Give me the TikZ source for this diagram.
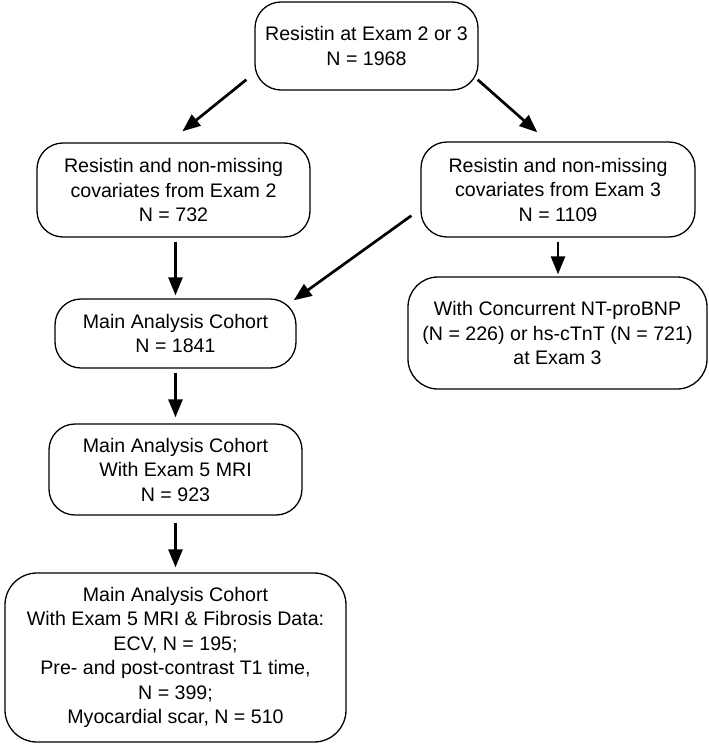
\documentclass[tikz,border=0pt]{standalone}
\usepackage{fontspec}
\setmainfont{Liberation Sans}
\usetikzlibrary{arrows.meta,calc}
\begin{document}
\begin{tikzpicture}[x=1pt,y=-1pt,
  box/.style={draw,line width=1.3pt,rounded corners=26pt,align=center,inner sep=0pt,
    font=\fontsize{19.6}{24.5}\selectfont},
  arr/.style={line width=2.7pt,-{Triangle[length=18pt,width=14pt]}}]
\useasboundingbox (0,0) rectangle (709,744);
\node[box,minimum width=223pt,minimum height=88pt] (b1) at (366.5,46) {Resistin at Exam 2 or 3\\N = 1968};
\node[box,minimum width=273pt,minimum height=94pt] (b2) at (173.5,190) {Resistin and non-missing\\covariates from Exam 2\\N = 732};
\node[box,minimum width=274pt,minimum height=95pt] (b3) at (558,189.5) {Resistin and non-missing\\covariates from Exam 3\\N = 1109};
\node[box,minimum width=241pt,minimum height=69pt] (b4) at (175.5,333.5) {Main Analysis Cohort\\N = 1841};
\node[box,minimum width=299pt,minimum height=112pt,rounded corners=30pt] (b5) at (557.5,333) {With Concurrent NT-proBNP\\(N = 226) or hs-cTnT (N = 721)\\at Exam 3};
\node[box,minimum width=253pt,minimum height=91pt] (b6) at (175.5,469.5) {Main Analysis Cohort\\With Exam 5 MRI\\N = 923};
\node[box,minimum width=341pt,minimum height=169pt,rounded corners=32pt] (b7) at (175.5,657.5) {Main Analysis Cohort\\With Exam 5 MRI \& Fibrosis Data:\\ECV, N = 195;\\Pre- and post-contrast T1 time,\\N = 399;\\Myocardial scar, N = 510};
\draw[arr] ([shift={(-8,-11)}]b1.south west) -- ([shift={(146,-11)}]b2.north west);
\draw[arr] ([shift={(-1,-11)}]b1.south east) -- ([shift={(117,-9)}]b3.north west);
\draw[arr] ([shift={(-9,-22)}]b3.south west) -- ([shift={(-3,2)}]b4.north east);
\draw[arr,shorten <=4pt,shorten >=3pt] (b2.south -| b4.north) -- (b4.north);
\draw[arr,shorten <=4pt,shorten >=2pt] (b3.south) -- (b3.south |- b5.north);
\draw[arr,shorten <=4pt,shorten >=6pt] (b4.south) -- (b6.north);
\draw[arr,shorten <=7pt,shorten >=5pt] (b6.south) -- (b7.north);
\end{tikzpicture}
\end{document}
